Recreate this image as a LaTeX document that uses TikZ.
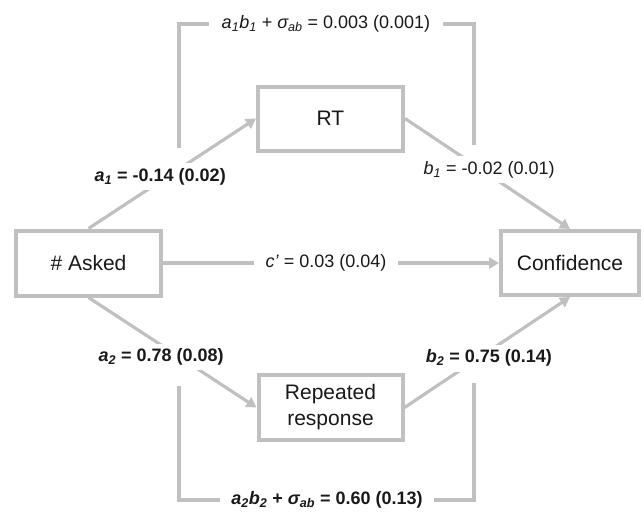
\documentclass[tikz,border=0pt]{standalone}
\usepackage{fontspec}
\setmainfont{Liberation Sans}
\usepackage{tikz}
\usetikzlibrary{arrows.meta,positioning}
\definecolor{pathgray}{RGB}{192,192,192}
\definecolor{textblack}{RGB}{25,25,25}
\tikzstyle{arrow} = [line width=3.2pt, -{Triangle[length=10pt,width=11pt]}, color=pathgray]
\tikzstyle{bracket} = [line width=3.2pt, color=pathgray]
\tikzstyle{var} = [rectangle, draw=pathgray, line width=4pt, fill=white, minimum width=145pt, minimum height=64pt, text centered, text=textblack, font=\fontsize{21}{26}\selectfont]
\tikzstyle{coef} = [fill=white, inner sep=5pt, text=textblack, font=\fontsize{18}{22}\selectfont]

\begin{document}
\begin{tikzpicture}[x=1pt, y=-1pt]
\useasboundingbox (0,0) rectangle (644,515);
% Variables
\node (asked) [var, minimum height=65pt] at (88.5,263) {\# Asked};
\node (conf) [var, right of=asked, node distance=481.5pt, minimum width=138pt] {Confidence};
\node (rt) [var] at (330.5,118.5) {RT};
\node (rep) [var, below of=rt, node distance=289pt, align=center, minimum width=144pt, minimum height=65pt] {Repeated\\response};

% Paths
\draw[arrow] (asked.north) -- node[coef, pos=0.47, xshift=-7pt] (a1lab) {\textbf{\textit{a\textsubscript{1}} = -0.14 (0.02)}} (rt.west);
\draw[arrow] (rt.east) -- node[coef, pos=0.51, yshift=5pt] (b1lab) {\textit{b\textsubscript{1}} = -0.02 (0.01)} (conf.north);
\draw[arrow] (asked.east) -- node[coef, pos=0.485, inner xsep=12pt] (clab) {\textit{c’} = 0.03 (0.04)} (conf.west);
\draw[arrow] (asked.south) -- node[coef, pos=0.45, xshift=-3pt, yshift=-10pt] (a2lab) {\textbf{\textit{a\textsubscript{2}} = 0.78 (0.08)}} (rep.west);
\draw[arrow] (rep.east) -- node[coef, pos=0.51, yshift=-7pt] (b2lab) {\textbf{\textit{b\textsubscript{2}} = 0.75 (0.14)}} (conf.south);

% Indirect effects
\coordinate (ind1L) at (179,148);
\coordinate (ind1R) at (474,145);
\node (ind1) [coef, inner xsep=13pt] at (326,24) {\textit{a\textsubscript{1}b\textsubscript{1}} + \textit{σ\textsubscript{ab}} = 0.003 (0.001)};
\draw[bracket] (ind1L) |- (ind1) -| (ind1R);

\coordinate (ind2L) at (179,386);
\coordinate (ind2R) at (474,383);
\node (ind2) [coef, inner xsep=11pt] at (327,500) {\textbf{\textit{a\textsubscript{2}b\textsubscript{2}} + \textit{σ\textsubscript{ab}} = 0.60 (0.13)}};
\draw[bracket] (ind2L) |- (ind2) -| (ind2R);
\end{tikzpicture}
\end{document}
